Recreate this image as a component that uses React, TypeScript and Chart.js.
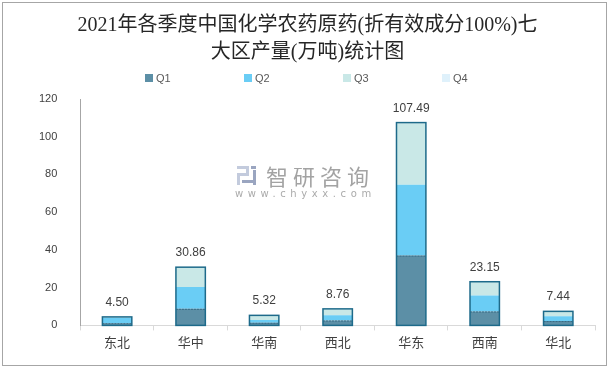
import React, { useEffect, useRef } from 'react';
import { Chart, registerables } from 'chart.js';

Chart.register(...registerables);

const categories = ['东北', '华中', '华南', '西北', '华东', '西南', '华北'];
const q1 = [1.2, 8.8, 1.4, 2.6, 37.0, 7.4, 2.3];
const q2 = [2.9, 11.6, 1.4, 2.8, 37.6, 8.5, 2.5];
const q3 = [0.3, 10.3, 2.4, 3.2, 32.6, 7.1, 2.5];
const q4 = [0.1, 0.16, 0.12, 0.16, 0.29, 0.15, 0.14];
const seriesNames = ['Q1', 'Q2', 'Q3', 'Q4'];
const seriesColors = ['#5c8fa6', '#6acdf5', '#c9e8e7', '#dff1fb'];
const yTickValues = [0, 20, 40, 60, 80, 100, 120];
const titleLines = ['2021年各季度中国化学农药原药(折有效成分100%)七', '大区产量(万吨)统计图'];
const watermarkText = '智研咨询';
const watermarkUrl = 'www.chyxx.com';

const seriesValues = [q1, q2, q3, q4];

const overlayPlugin = {
  id: 'overlay',
  beforeDatasetsDraw(chart: any) {
    const ctx = chart.ctx;
    ctx.save();
    // watermark logo (approximate)
    ctx.fillStyle = '#c3cbdd';
    ctx.fillRect(237, 166, 12, 3);
    ctx.fillRect(246, 166, 3, 9);
    ctx.fillRect(237, 173, 12, 3);
    ctx.fillRect(237, 173, 3, 12);
    ctx.fillStyle = '#9aa5c0';
    ctx.fillRect(251, 166, 5, 3);
    ctx.fillRect(253, 170, 3, 15);
    ctx.fillRect(242, 180, 14, 3);
    ctx.fillStyle = '#a3a3a3';
    ctx.font = '22px "Noto Sans CJK SC"';
    ctx.textBaseline = 'middle';
    ctx.textAlign = 'left';
    (ctx as any).letterSpacing = '5px';
    ctx.fillText(watermarkText, 266, 177);
    ctx.font = '10px "DejaVu Sans"';
    ctx.fillStyle = '#ababab';
    (ctx as any).letterSpacing = '4.6px';
    ctx.fillText(watermarkUrl, 235, 194);
    (ctx as any).letterSpacing = '0px';
    ctx.restore();
  },
  afterDatasetsDraw(chart: any) {
    const ctx = chart.ctx;
    const first = chart.getDatasetMeta(0).data;
    const last = chart.getDatasetMeta(seriesValues.length - 1).data;
    const yScale = chart.scales.y;
    ctx.save();
    for (let i = 0; i < categories.length; i++) {
      const b = first[i];
      const w = b.width;
      const left = b.x - w / 2;
      const base = yScale.getPixelForValue(0);
      const top = last[i].y;
      ctx.setLineDash([2, 1]);
      ctx.strokeStyle = 'rgba(40,90,115,0.7)';
      ctx.lineWidth = 1;
      ctx.beginPath();
      ctx.moveTo(left, b.y + 0.5);
      ctx.lineTo(left + w, b.y + 0.5);
      ctx.stroke();
      ctx.setLineDash([]);
      ctx.strokeStyle = '#1d6a8a';
      ctx.lineWidth = 1.5;
      ctx.strokeRect(left, top, w, base - top);
      const total = seriesValues.reduce((s, arr) => s + arr[i], 0);
      ctx.fillStyle = '#404040';
      ctx.font = '12px "Liberation Sans"';
      ctx.textAlign = 'center';
      ctx.textBaseline = 'alphabetic';
      ctx.fillText(total.toFixed(2), b.x, top - 11);
    }
    ctx.restore();
  },
  afterDraw(chart: any) {
    const ctx = chart.ctx;
    const W = chart.width;
    ctx.save();
    ctx.strokeStyle = '#a6a6a6';
    ctx.lineWidth = 1;
    ctx.strokeRect(2.5, 2.5, 604, 363);
    ctx.fillStyle = '#262626';
    ctx.font = '20px "Liberation Serif", "Noto Sans CJK SC"';
    ctx.textAlign = 'center';
    ctx.textBaseline = 'middle';
    ctx.fillText(titleLines[0], W / 2 + 2, 26);
    ctx.fillText(titleLines[1], W / 2 + 2, 53);
    const spacing = 99;
    const startX = W / 2 - (3 * spacing + 24) / 2;
    ctx.font = '11px "Liberation Sans"';
    ctx.textAlign = 'left';
    for (let k = 0; k < seriesNames.length; k++) {
      const x = startX + k * spacing;
      ctx.fillStyle = seriesColors[k];
      ctx.fillRect(x, 74, 8, 8);
      ctx.fillStyle = '#595959';
      ctx.fillText(seriesNames[k], x + 11, 78.5);
    }
    ctx.restore();
  },
};

export default function App() {
  const ref = useRef<HTMLCanvasElement | null>(null);
  useEffect(() => {
    document.body.style.margin = '0';
    const canvas = ref.current;
    if (!canvas) return;
    const chart = new Chart(canvas, {
      type: 'bar',
      data: {
        labels: categories,
        datasets: seriesValues.map((vals, k) => ({
          label: seriesNames[k],
          data: vals,
          backgroundColor: seriesColors[k],
          borderWidth: 0,
          categoryPercentage: 1,
          barPercentage: 0.4,
        })),
      },
      options: {
        responsive: false,
        animation: false,
        layout: { padding: { left: 24, right: 16, top: 99, bottom: 16 } },
        plugins: {
          legend: { display: false },
          title: { display: false },
          tooltip: { enabled: false },
        },
        scales: {
          x: {
            stacked: true,
            offset: true,
            grid: { display: true, drawOnChartArea: false, offset: true, tickLength: 5, color: '#d9d9d9' },
            border: { display: true, color: '#d9d9d9', width: 1 },
            ticks: { color: '#404040', font: { size: 13, family: '"Noto Sans CJK SC"' }, padding: 4 },
          },
          y: {
            stacked: true,
            min: 0,
            max: 120,
            afterBuildTicks: (scale: any) => {
              scale.ticks = yTickValues.map((v) => ({ value: v }));
            },
            grid: { display: false },
            border: { display: true, color: '#a6a6a6', width: 1 },
            ticks: { color: '#404040', font: { size: 11, family: '"Liberation Sans"' }, padding: 15 },
          },
        },
      },
      plugins: [overlayPlugin],
    });
    return () => chart.destroy();
  }, []);
  return <canvas ref={ref} width={611} height={370} style={{ display: 'block' }} />;
}
